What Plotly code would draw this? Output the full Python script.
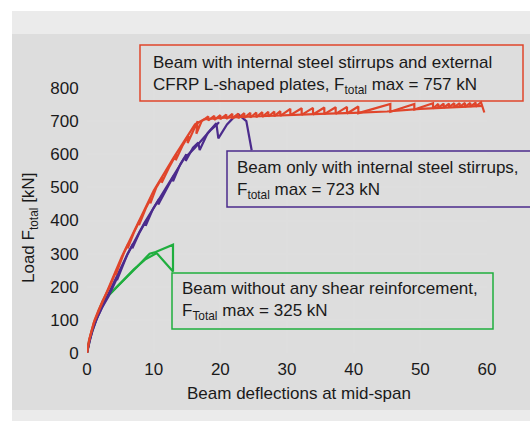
import plotly.graph_objects as go

# ---------------- data ----------------
x_ticks = [0, 10, 20, 30, 40, 50, 60]
y_ticks = [0, 100, 200, 300, 400, 500, 600, 700, 800]

red_main_x = [0, 0.3, 0.7, 1.15, 1.7, 2.4, 3.4, 4.4, 4.3, 5.5, 6.2, 6.1, 7.0, 7.9, 7.8, 8.8, 9.6, 9.5,
              10.4, 11.3, 11.2, 12.3, 13.4, 13.3, 14.3, 15.2, 15.1, 16.0, 16.6, 16.4, 17.2,
              18.2, 18.2, 19.1, 19.1, 20.0, 20.0, 20.9, 20.9, 21.8, 21.8, 22.7, 22.7, 23.6, 23.6,
              24.5, 24.5, 25.4, 25.4, 26.3, 26.3, 27.2, 27.2, 28.1, 28.1, 29.0, 29.0,
              30.5, 30.5, 32.2, 32.2, 33.9, 33.9, 35.6, 35.6, 37.3, 37.3, 39.0, 39.0, 40.7, 40.7,
              45.5, 45.5, 49.1, 49.1, 51.9, 51.9, 52.7, 52.7, 53.5, 53.5, 54.3, 54.3, 55.1, 55.1,
              55.9, 55.9, 56.7, 56.7, 57.5, 57.5, 58.3, 58.3, 59.1, 59.6]
red_main_y = [0, 38, 68, 100, 128, 160, 200, 248, 236, 300, 330, 316, 362, 400, 386, 436, 468, 452,
              500, 530, 514, 560, 600, 582, 625, 655, 634, 675, 700, 662, 700,
              714, 702, 716, 704, 718, 706, 720, 707, 722, 708, 723, 709, 724, 710,
              725, 711, 726, 712, 727, 713, 728, 714, 729, 715, 730, 716,
              737, 718, 739, 719, 740, 720, 741, 721, 742, 722, 743, 723, 744, 724,
              752, 728, 752, 735, 754, 738, 752, 740, 753, 741, 753, 742, 754, 742,
              754, 743, 755, 743, 755, 744, 756, 744, 757, 726]

red_smooth_x = [0, 0.4, 1.0, 2.0, 3.2, 5.2, 7.6, 10.0, 13.0, 16.2, 17.5, 20, 25, 30, 35, 40, 45, 50, 55, 59.4]
red_smooth_y = [0, 45, 90, 140, 195, 290, 390, 490, 590, 690, 705, 710, 714, 719, 722, 725, 729, 737, 742, 746]

purple_main_x = [0, 0.3, 0.8, 1.4, 2.2, 3.2, 4.6, 4.5, 6.1, 6.9, 6.8, 7.9, 8.9, 8.8, 9.9, 10.8, 10.7,
                 12.1, 13.0, 12.9, 14.0, 14.9, 14.8, 15.9, 16.7, 16.9, 18.1, 19.4, 19.7, 21.0,
                 21.9, 22.7, 23.9, 24.7]
purple_main_y = [0, 30, 65, 100, 135, 170, 230, 220, 300, 330, 316, 365, 400, 384, 435, 465, 448,
                 500, 535, 518, 570, 600, 580, 620, 635, 613, 664, 694, 648, 690,
                 709, 720, 700, 612]

purple_second_x = [0, 0.8, 1.6, 2.6, 3.6, 6.0, 8.6, 11.6, 14.5, 16.2, 17.5, 18.5, 19.5, 19.8]
purple_second_y = [0, 70, 110, 150, 195, 295, 392, 490, 585, 620, 650, 672, 690, 697]

green_a_x = [0, 0.3, 0.7, 1.2, 1.8, 2.4, 3.5, 4.8, 6.2, 7.6, 9.4, 10.3, 12.9, 12.9, 10.3]
green_a_y = [0, 35, 65, 95, 130, 158, 180, 205, 232, 262, 300, 305, 327, 246, 305]

green_b_x = [0, 0.5, 1.1, 1.8, 2.6, 4.0, 5.5, 7.0, 8.7, 10.4]
green_b_y = [0, 48, 85, 125, 160, 190, 222, 252, 282, 301]

RED = "#e0452b"
PURPLE = "#4b2b8c"
GREEN = "#1fae3e"
TXT = "#1a1a1a"
FONT = "Liberation Sans, Arial, Helvetica, sans-serif"
FS = 17

# ---------------- figure ----------------
fig = go.Figure()
for xs, ys, c in [(green_b_x, green_b_y, GREEN), (green_a_x, green_a_y, GREEN),
                  (purple_second_x, purple_second_y, PURPLE), (purple_main_x, purple_main_y, PURPLE),
                  (red_smooth_x, red_smooth_y, RED), (red_main_x, red_main_y, RED)]:
    fig.add_trace(go.Scatter(x=xs, y=ys, mode="lines", line=dict(color=c, width=2.2),
                             showlegend=False, hoverinfo="skip"))

W, H = 530, 421
L, R, T, B = 87, 43, 88, 68
PW, PH = W - L - R, H - T - B


def px(x):
    return (x - L) / PW


def py(y):
    return (H - B - y) / PH


shapes = []
# background bands (paper level, below plot area)
shapes.append(dict(type="rect", xref="paper", yref="paper", x0=px(12), x1=px(531), y0=py(11), y1=py(34),
                   fillcolor="#ebebeb", line_width=0, layer="below"))
shapes.append(dict(type="rect", xref="paper", yref="paper", x0=px(12), x1=px(531), y0=py(34), y1=py(410),
                   fillcolor="#dddddd", line_width=0, layer="below"))
shapes.append(dict(type="rect", xref="paper", yref="paper", x0=px(12), x1=px(531), y0=py(410), y1=py(422),
                   fillcolor="#ebebeb", line_width=0, layer="below"))
# annotation boxes
for x0, x1, y0, y1, c in [(140, 523, 45, 101, RED), (227, 545, 151, 207, PURPLE), (172, 493, 273, 329, GREEN)]:
    shapes.append(dict(type="rect", xref="paper", yref="paper", x0=px(x0), x1=px(x1), y0=py(y0), y1=py(y1),
                       line=dict(color=c, width=1.5), fillcolor="rgba(0,0,0,0)", layer="above"))

annotations = []
for txt, x, y in [
    ("Beam with internal steel stirrups and external<br>CFRP L-shaped plates, F<sub>total</sub> max = 757 kN", 151, 51),
    ("Beam only with internal steel stirrups,<br>F<sub>total</sub> max = 723 kN", 235, 156),
    ("Beam without any shear reinforcement,<br>F<sub>Total</sub> max = 325 kN", 180, 277),
]:
    annotations.append(dict(text=txt, xref="paper", yref="paper", x=px(x), y=py(y), xanchor="left",
                            yanchor="top", align="left", showarrow=False,
                            font=dict(family=FONT, size=FS, color=TXT)))
annotations.append(dict(text="Beam deflections at mid-span", xref="paper", yref="paper", x=px(299), y=py(393),
                        xanchor="center", yanchor="middle", showarrow=False,
                        font=dict(family=FONT, size=FS, color=TXT)))
annotations.append(dict(text="Load F<sub>total</sub> [kN]", xref="paper", yref="paper", x=px(30), y=py(228),
                        xanchor="center", yanchor="middle", showarrow=False, textangle=-90,
                        font=dict(family=FONT, size=FS, color=TXT)))

fig.update_layout(
    width=W, height=H, margin=dict(l=L, r=R, t=T, b=B),
    paper_bgcolor="white", plot_bgcolor="white",
    shapes=shapes, annotations=annotations,
    font=dict(family=FONT, size=FS, color=TXT),
    xaxis=dict(range=[0, 60], tickvals=x_ticks, ticktext=[str(v) for v in x_ticks],
               showgrid=True, gridcolor="#dedede", gridwidth=1.5, zeroline=False, showline=False,
               ticks="outside", ticklen=1, tickcolor="rgba(0,0,0,0)", fixedrange=True),
    yaxis=dict(range=[0, 800], tickvals=y_ticks, ticktext=[str(v) for v in y_ticks],
               showgrid=True, gridcolor="#dedede", gridwidth=1.5, zeroline=False, showline=False,
               ticks="outside", ticklen=4, tickcolor="rgba(0,0,0,0)", fixedrange=True),
)

fig.write_html("out.html", config={"displayModeBar": False},
               post_script="document.body.style.margin='0';document.body.style.overflow='hidden';")
